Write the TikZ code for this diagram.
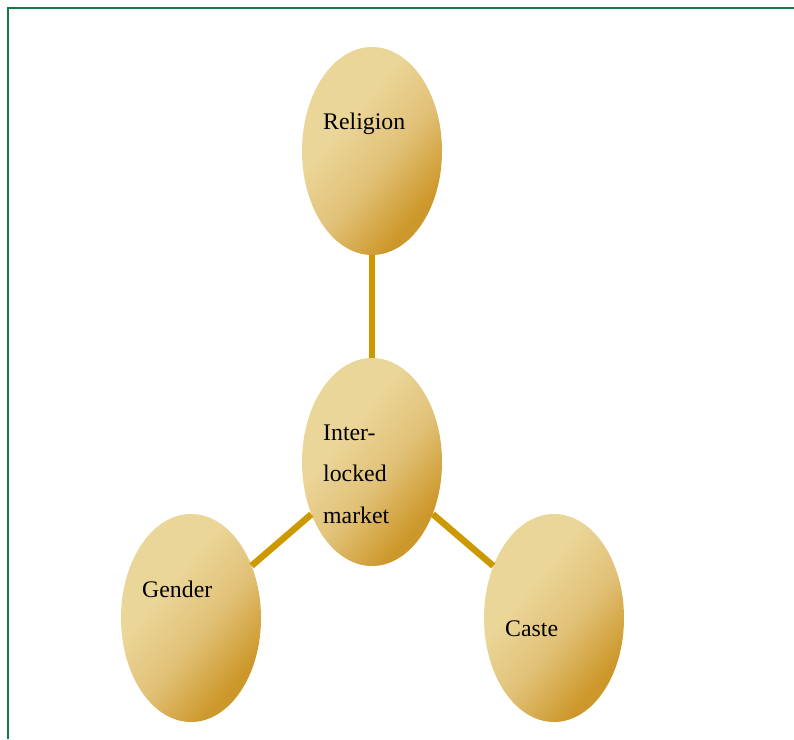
\documentclass[tikz,border=0pt]{standalone}
\usepackage{fontspec}
\setmainfont{Liberation Serif}
\usetikzlibrary{shapes.geometric, positioning}
\definecolor{goldlight}{HTML}{EBD699}
\definecolor{goldmid}{HTML}{E1C177}
\definecolor{golddark}{HTML}{CD982B}
\definecolor{goldline}{HTML}{CC9900}
\definecolor{frame}{HTML}{137A42}
\pgfdeclarehorizontalshading{goldfade}{100bp}{color(0bp)=(goldlight); color(38bp)=(goldlight);
  color(55bp)=(goldmid); color(72bp)=(golddark); color(100bp)=(golddark)}

\begin{document}
\begin{tikzpicture}[x=1pt, y=1pt,
  blob/.style={ellipse, minimum width=140pt, minimum height=208pt, inner sep=0pt,
    shading=goldfade, shading angle=-40},
  word/.style={anchor=base west, inner sep=0pt, align=left, font=\fontsize{23.8pt}{41pt}\selectfont},
  link/.style={line width=6.5pt, color=goldline}]
\useasboundingbox (0,0) rectangle (794,739);
\draw[frame, line width=2pt] (8,0) -- (8,731) -- (794,731);
\node[blob] (rel) at (372,588) {};
\node[blob] (mkt) at (372,277) {};
\node[blob] (gen) at (191,121) {};
\node[blob] (cas) at (554,121) {};
\draw[link] (rel) -- (mkt);
\draw[link] (mkt) -- (gen);
\draw[link] (mkt) -- (cas);
\node[word] (reltxt) at ([shift={(-49,21)}]rel.center) {Religion};
\node[word] (mkttxt) at ([shift={(-49,-61)}]mkt.center) {Inter-\\locked\\market};
\node[word] (gentxt) at ([shift={(-49,21)}]gen.center) {Gender};
\node[word] (castxt) at ([shift={(-49,-18)}]cas.center) {Caste};
\end{tikzpicture}
\end{document}
